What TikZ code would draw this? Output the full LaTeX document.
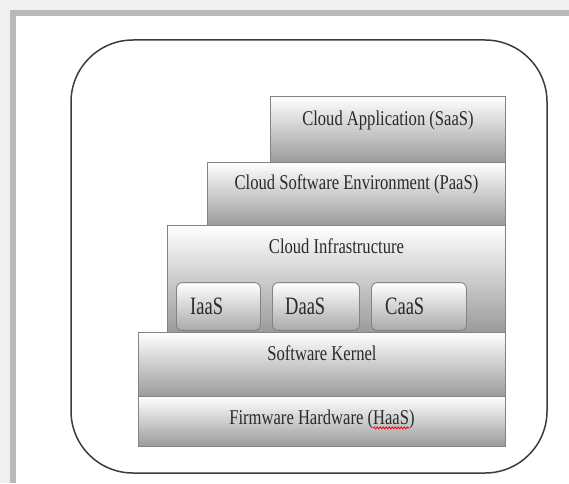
\documentclass[tikz,border=0pt]{standalone}
\usepackage{fontspec}
\usetikzlibrary{positioning,decorations.pathmorphing}
\newfontfamily\layerfont[FakeStretch=0.79]{Liberation Serif}
\newfontfamily\servfont[FakeStretch=0.74]{Liberation Serif}
\newcommand\capfont{\layerfont\fontsize{21}{24}\selectfont}
\newlength\wordw
\newlength\parenw
\AtBeginDocument{%
  \settowidth\wordw{\capfont HaaS)}%
  \settowidth\parenw{\capfont )}}
\definecolor{bggray}{HTML}{F0F0F0}
\definecolor{framegray}{HTML}{B9B9B9}
\definecolor{edgegray}{HTML}{838383}
\definecolor{shadegray}{HTML}{9A9A9A}
\definecolor{textgray}{HTML}{2A2A2A}
\definecolor{linegray}{HTML}{3C3C3C}
\tikzset{
  layer/.style={draw=edgegray, line width=.9pt, top color=white, bottom color=shadegray,
    anchor=south west, inner sep=0pt},
  service/.style={layer, rounded corners=6pt, bottom color=shadegray!85},
  caption/.style={font=\capfont, text=textgray, inner sep=0pt},
  servtext/.style={font=\servfont\fontsize{25}{28}\selectfont, text=textgray, inner sep=0pt}
}
\begin{document}
\begin{tikzpicture}[x=1pt,y=1pt]
\useasboundingbox (0,0) rectangle (569,483);
\fill[bggray] (0,0) rectangle (569,483);
\fill[framegray] (10,0) rectangle (569,473);
\fill[white] (16,0) rectangle (569,467);
\draw[linegray, line width=1.5pt, rounded corners=62pt] (71,10) rectangle (547,443);

\node[layer, minimum width=235pt, minimum height=66pt] (saas) at (270,320) {};
\node[layer, minimum width=298pt, minimum height=63pt] (paas) at (207,257) {};
\node[layer, minimum width=338pt, minimum height=107pt] (infra) at (167,150) {};
\node[layer, minimum width=367pt, minimum height=64pt] (kernel) at (138,86) {};
\node[layer, minimum width=367pt, minimum height=50pt] (haas) at (138,36) {};

  \foreach \name/\x/\w in {iaas/176/84, daas/272/87, caas/371/95}
{
    \node[service, minimum width=\w pt, minimum height=48pt] (\name) at (\x,152) {};
}

\node[caption, below=15pt of saas.north] {Cloud Application (SaaS)};
\node[caption, below=12pt of paas.north] {Cloud Software Environment (PaaS)};
\node[caption, below=13pt of infra.north] {Cloud Infrastructure};
\node[caption, below=13pt of kernel.north] {Software Kernel};
\node[caption, below=14pt of haas.north] (haastext) {Firmware Hardware (HaaS)};

% red spelling squiggle under HaaS
\coordinate (wavestart) at ([xshift=-\the\wordw, yshift=-3pt]haastext.base east);
\coordinate (waveend) at ([xshift=-\the\parenw, yshift=-3pt]haastext.base east);
\draw[red, line width=.8pt, decorate, decoration={snake, amplitude=1pt, segment length=3pt}]
  (wavestart) -- (waveend);

\node[servtext, right=14pt of iaas.west] {IaaS};
\node[servtext, right=13pt of daas.west] {DaaS};
\node[servtext, right=14pt of caas.west] {CaaS};
\end{tikzpicture}
\end{document}
